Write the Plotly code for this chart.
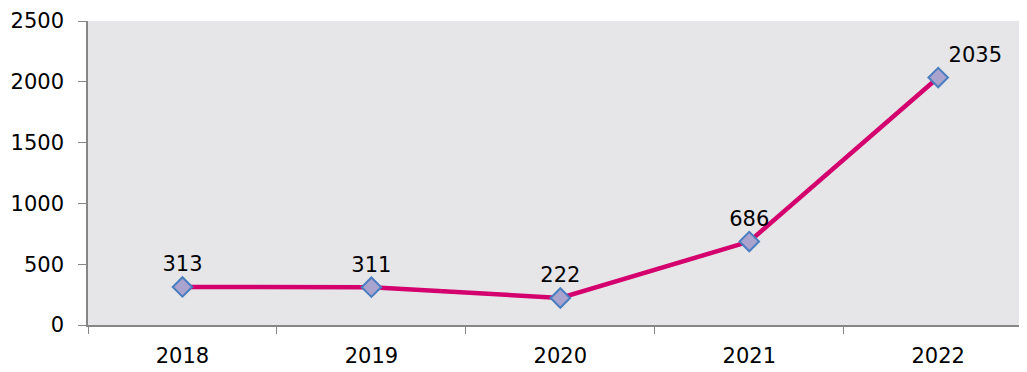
import plotly.graph_objects as go

years = ["2018", "2019", "2020", "2021", "2022"]
values = [313, 311, 222, 686, 2035]
y_ticks = [0, 500, 1000, 1500, 2000, 2500]

font_family = "'DejaVu Sans', sans-serif"
fs = 21

fig = go.Figure()
fig.add_trace(go.Scatter(
    x=years, y=values,
    mode="lines+markers+text",
    text=[str(v) for v in values],
    textposition=["top center", "top center", "top center", "top center", "top right"],
    textfont=dict(family=font_family, size=fs, color="#000000"),
    line=dict(color="#d4006e", width=4.5),
    marker=dict(symbol="diamond", size=15, color="#a9a3cd",
                line=dict(color="#4a7ec0", width=2)),
    cliponaxis=False,
))

fig.update_layout(
    width=1019, height=364,
    margin=dict(l=80, r=0, t=13, b=47),
    paper_bgcolor="#ffffff",
    plot_bgcolor="#e6e6e8",
    showlegend=False,
    font=dict(family=font_family, size=fs, color="#000000"),
)
fig.update_xaxes(
    type="category", range=[-0.5, 4.47], automargin=False,
    showgrid=False, showline=True, linecolor="#868686", linewidth=1.5,
    ticks="outside", tickson="boundaries", ticklen=7, tickcolor="#868686",
    tickfont=dict(family=font_family, size=fs), ticklabelstandoff=11,
)
fig.update_yaxes(
    range=[0, 2500], tickvals=y_ticks, automargin=False,
    showgrid=False, showline=True, linecolor="#868686", linewidth=1.5,
    ticks="outside", ticklen=8, tickcolor="#868686",
    tickfont=dict(family=font_family, size=fs), zeroline=False,
    ticklabelstandoff=10,
)

fig.write_html("out.html")
